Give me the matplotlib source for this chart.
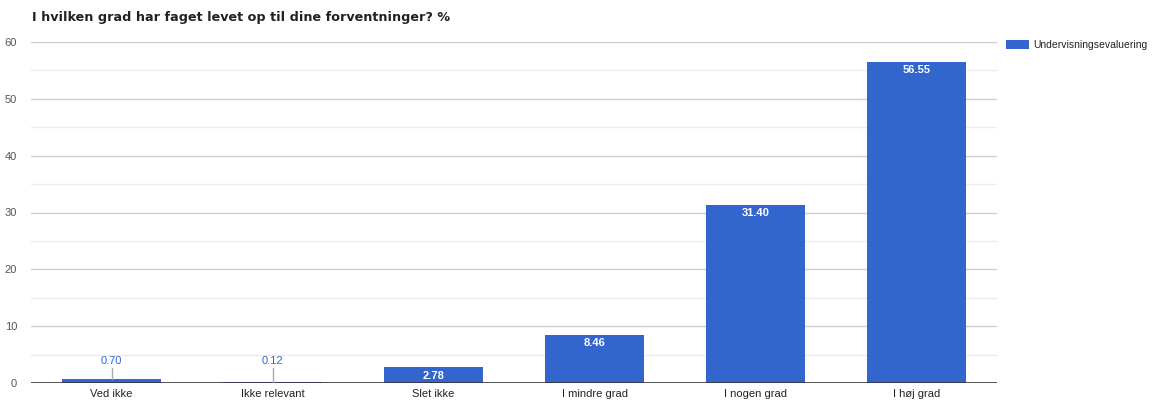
import matplotlib
matplotlib.use("Agg")
import matplotlib.pyplot as plt
from matplotlib.patches import Patch

categories = ["Ved ikke", "Ikke relevant", "Slet ikke", "I mindre grad", "I nogen grad", "I høj grad"]
values = [0.70, 0.12, 2.78, 8.46, 31.40, 56.55]
series_name = "Undervisningsevaluering"
title = "I hvilken grad har faget levet op til dine forventninger? %"
yticks = [0, 10, 20, 30, 40, 50, 60]
minor_ticks = [5, 15, 25, 35, 45, 55]

W, H = 1160, 403
fig = plt.figure(figsize=(W / 100, H / 100), dpi=100)
plt.rcParams['font.family'] = ['Liberation Sans', 'DejaVu Sans']
ax = fig.add_axes([31 / W, 1 - 383 / H, (997 - 31) / W, (383 - 42) / H])

color = "#3366CC"
x = list(range(len(categories)))
bars = ax.bar(x, values, width=0.615, color=color, zorder=3)
ax.set_xlim(-0.5, len(categories) - 0.5)
ax.set_ylim(0, 60)

for t in yticks[1:]:
    ax.axhline(t, color="#cccccc", lw=1, zorder=1)
for t in minor_ticks:
    ax.axhline(t, color="#ebebeb", lw=1, zorder=1)
ax.axhline(0, color="#333333", lw=1.2, zorder=4)

ax.set_yticks(yticks)
ax.set_yticklabels([str(t) for t in yticks], fontsize=8, color="#555555")
ax.set_xticks(x)
ax.set_xticklabels(categories, fontsize=8, color="#222222")
ax.tick_params(axis='both', length=0)
ax.tick_params(axis='y', pad=10)
ax.tick_params(axis='x', pad=4)
for s in ax.spines.values():
    s.set_visible(False)

for xi, v in zip(x, values):
    if v >= 2.5:
        ax.text(xi, v - 0.6, f"{v:.2f}", ha='center', va='top', fontsize=8,
                color='white', fontweight='bold', zorder=5)
    else:
        ax.plot([xi, xi], [v, 2.7], color="#aaaaaa", lw=1, zorder=4)
        ax.text(xi, 3.0, f"{v:.2f}", ha='center', va='bottom', fontsize=8,
                color=color, zorder=5)

fig.text(32 / W, 1 - 17 / H, title, fontsize=9.2, fontweight='bold',
         color='#222222', ha='left', va='center', family=['DejaVu Sans'])

leg = fig.legend(handles=[Patch(facecolor=color, label=series_name)],
                 loc='upper left', bbox_to_anchor=(1002 / W, 1 - 36 / H),
                 frameon=False, fontsize=7.5, handlelength=2.2, handleheight=1.0,
                 handletextpad=0.4, borderaxespad=0)
for t in leg.get_texts():
    t.set_color('#222222')

fig.savefig("out.png", dpi=100)
